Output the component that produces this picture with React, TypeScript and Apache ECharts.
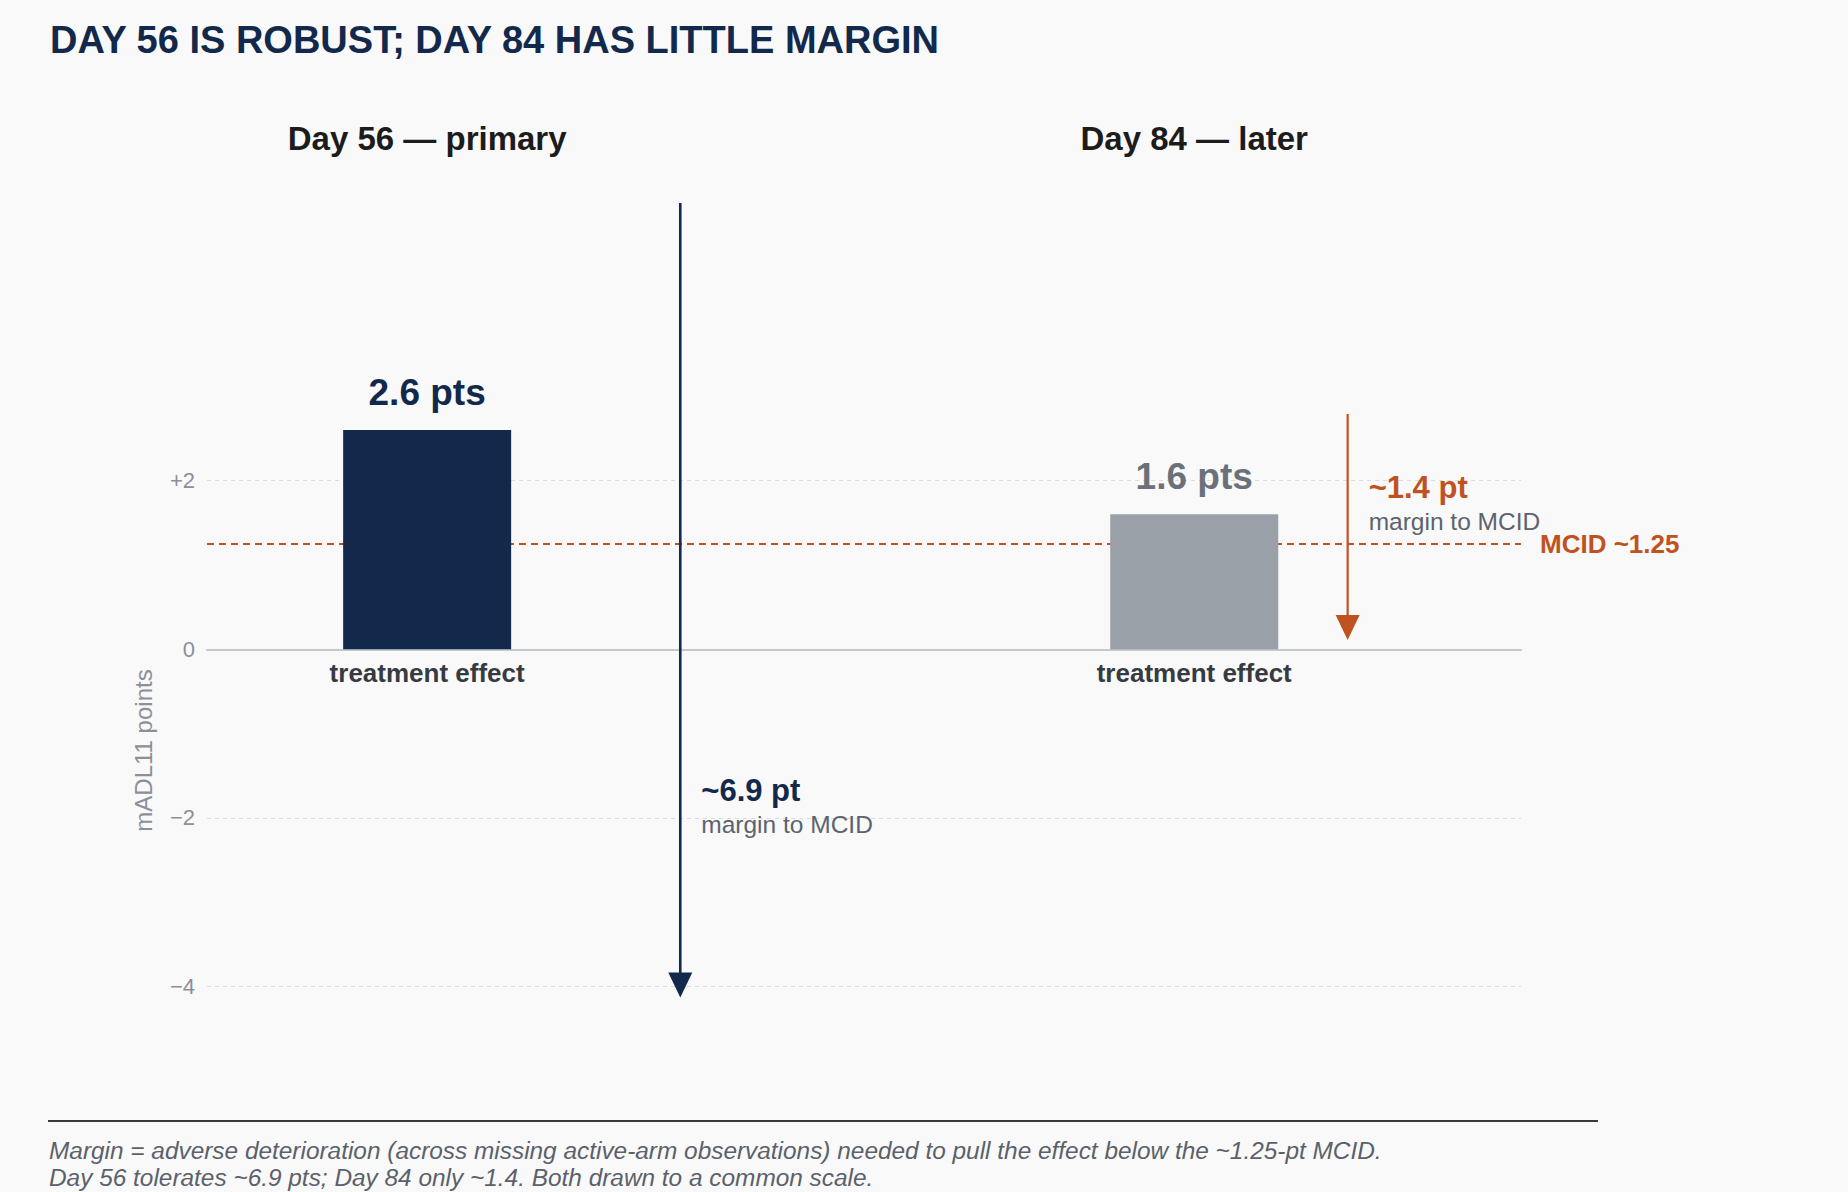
import React, { useEffect, useRef } from "react";
import * as echarts from "echarts";

// ---- data ----
const PANEL_TITLES = ["Day 56 — primary", "Day 84 — later"];
const BAR_LABEL = "treatment effect";
const BAR_X = [0, 1];
const EFFECTS = [2.6, 1.6];
const MARGINS = [6.9, 1.4];
const MCID = 1.25;
const MCID_LABEL = "MCID ~1.25";
const ARROW_X = [0.33, 1.2];
const ARROW_TOP = [5.29, 2.79];
const ARROW_TIP = [-4.13, 0.11];
const MARGIN_LABEL_Y = [-1.68, 1.92];
const Y_TICKS = [-4, -2, 0, 2];
const Y_MIN = -5;
const Y_MAX = 2.6;
const X_MIN = -0.287;
const X_MAX = 1.426;
const TITLE = "DAY 56 IS ROBUST; DAY 84 HAS LITTLE MARGIN";
const Y_NAME = "mADL11 points";
const FOOTNOTES = [
  "Margin = adverse deterioration (across missing active-arm observations) needed to pull the effect below the ~1.25-pt MCID.",
  "Day 56 tolerates ~6.9 pts; Day 84 only ~1.4. Both drawn to a common scale.",
];

// ---- styles ----
const FONT = "'Liberation Sans', Arial, Helvetica, sans-serif";
const NAVY = "#13294b";
const ORANGE = "#c0521f";
const BAR_COLORS = [NAVY, "#9aa0a8"];
const VALUE_COLORS = [NAVY, "#6b717a"];
const ARROW_COLORS = [NAVY, ORANGE];
const ARROW_WIDTHS = [2.6, 2.2];
const BG = "#f9f9f9";

function fmtTick(v: number): string {
  if (!Y_TICKS.includes(v)) return "";
  if (v > 0) return "+" + v;
  if (v < 0) return "\u2212" + Math.abs(v);
  return "0";
}

export default function App() {
  const ref = useRef<HTMLDivElement>(null);
  useEffect(() => {
    if (!ref.current) return;
    const chart = echarts.init(ref.current, null, { renderer: "svg" });
    const option: any = {
      animation: false,
      backgroundColor: BG,
      textStyle: { fontFamily: FONT },
      grid: { left: 207, right: 327, top: 430, bottom: 121, containLabel: false },
      xAxis: {
        type: "value",
        min: X_MIN,
        max: X_MAX,
        axisLine: { show: true, onZero: true, lineStyle: { color: "#c5c8cd", width: 2 } },
        axisTick: { show: false },
        axisLabel: { show: false },
        splitLine: { show: false },
        z: 1,
      },
      yAxis: {
        type: "value",
        min: Y_MIN,
        max: Y_MAX,
        name: Y_NAME,
        nameLocation: "middle",
        nameGap: 52,
        nameTextStyle: { color: "#8b9099", fontSize: 24, fontFamily: FONT },
        axisLine: { show: false },
        axisTick: { show: false },
        splitLine: { show: false },
        axisLabel: {
          color: "#8b9099",
          fontSize: 22,
          fontFamily: FONT,
          margin: 12,
          formatter: fmtTick,
        },
      },
      graphic: [
        {
          type: "text",
          left: 50,
          top: 21,
          style: {
            text: TITLE,
            fill: NAVY,
            fontSize: 38,
            fontWeight: "bold",
            fontFamily: FONT,
          },
        },
        {
          type: "line",
          shape: { x1: 48, y1: 1121, x2: 1598, y2: 1121 },
          style: { stroke: "#3a3a3a", lineWidth: 2 },
        },
        ...FOOTNOTES.map((t, i) => ({
          type: "text",
          x: 49,
          y: 1150 + i * 27,
          style: {
            text: t,
            fill: "#5b616b",
            fontSize: 24.4,
            fontStyle: "italic",
            fontFamily: FONT,
            verticalAlign: "middle",
          },
        })),
      ],
      series: [
        {
          type: "line",
          data: [],
          z: 1,
          silent: true,
          markLine: {
            silent: true,
            z: 1,
            symbol: ["none", "none"],
            label: { show: false },
            lineStyle: { color: "#dcdcdc", width: 1, type: [4, 4] },
            data: Y_TICKS.filter((v) => v !== 0).map((v) => ({ yAxis: v })),
          },
        },
        {
          type: "line",
          data: [],
          z: 2,
          silent: true,
          markLine: {
            silent: true,
            z: 2,
            symbol: ["none", "none"],
            lineStyle: { color: ORANGE, width: 2, type: [7, 5] },
            label: {
              show: true,
              position: "end",
              distance: 19,
              formatter: MCID_LABEL,
              color: ORANGE,
              fontSize: 26,
              fontWeight: "bold",
              fontFamily: FONT,
            },
            data: [{ yAxis: MCID }],
          },
        },
        {
          type: "bar",
          z: 10,
          barWidth: 168,
          data: BAR_X.map((x, i) => ({
            value: [x, EFFECTS[i]],
            itemStyle: { color: BAR_COLORS[i] },
            label: { color: VALUE_COLORS[i] },
          })),
          label: {
            show: true,
            position: "top",
            distance: 19,
            fontSize: 37,
            fontWeight: "bold",
            fontFamily: FONT,
            formatter: (p: any) => `${p.value[1].toFixed(1)} pts`,
          },
        },
        {
          type: "custom",
          z: 11,
          clip: false,
          silent: true,
          data: BAR_X.map((x) => [x, 0]),
          renderItem: (params: any, api: any) => {
            const i = params.dataIndex;
            const p = api.coord([api.value(0), api.value(1)]);
            const cs = params.coordSys;
            return {
              type: "group",
              children: [
                {
                  type: "text",
                  x: p[0],
                  y: cs.y - 292,
                  style: {
                    text: PANEL_TITLES[i],
                    fill: "#1c1c1c",
                    fontSize: 33,
                    fontWeight: "bold",
                    fontFamily: FONT,
                    align: "center",
                    verticalAlign: "middle",
                  },
                },
                {
                  type: "text",
                  x: p[0],
                  y: p[1] + 24,
                  style: {
                    text: BAR_LABEL,
                    fill: "#363b42",
                    fontSize: 26,
                    fontWeight: "bold",
                    fontFamily: FONT,
                    align: "center",
                    verticalAlign: "middle",
                  },
                },
              ],
            };
          },
        },
        {
          type: "custom",
          z: 12,
          clip: false,
          silent: true,
          data: ARROW_X.map((x, i) => [x, ARROW_TOP[i], ARROW_TIP[i], MARGIN_LABEL_Y[i]]),
          renderItem: (params: any, api: any) => {
            const i = params.dataIndex;
            const x = api.value(0);
            const top = api.coord([x, api.value(1)]);
            const tip = api.coord([x, api.value(2)]);
            const lab = api.coord([x, api.value(3)]);
            const color = ARROW_COLORS[i];
            const hh = 25;
            const hw = 24;
            return {
              type: "group",
              children: [
                {
                  type: "line",
                  shape: { x1: top[0], y1: top[1], x2: tip[0], y2: tip[1] - hh + 2 },
                  style: { stroke: color, lineWidth: ARROW_WIDTHS[i] },
                },
                {
                  type: "polygon",
                  shape: {
                    points: [
                      [tip[0] - hw / 2, tip[1] - hh],
                      [tip[0] + hw / 2, tip[1] - hh],
                      [tip[0], tip[1]],
                    ],
                  },
                  style: { fill: color },
                },
                {
                  type: "text",
                  x: lab[0] + 21,
                  y: lab[1],
                  style: {
                    text: `~${MARGINS[i]} pt`,
                    fill: color,
                    fontSize: 31,
                    fontWeight: "bold",
                    fontFamily: FONT,
                    align: "left",
                    verticalAlign: "middle",
                  },
                },
                {
                  type: "text",
                  x: lab[0] + 21,
                  y: lab[1] + 34,
                  style: {
                    text: "margin to MCID",
                    fill: "#5c636e",
                    fontSize: 24.5,
                    fontFamily: FONT,
                    align: "left",
                    verticalAlign: "middle",
                  },
                },
              ],
            };
          },
        },
      ],
    };
    chart.setOption(option);
    return () => chart.dispose();
  }, []);
  return (
    <div
      ref={ref}
      style={{ position: "fixed", left: 0, top: 0, width: 1848, height: 1192, background: BG }}
    />
  );
}
